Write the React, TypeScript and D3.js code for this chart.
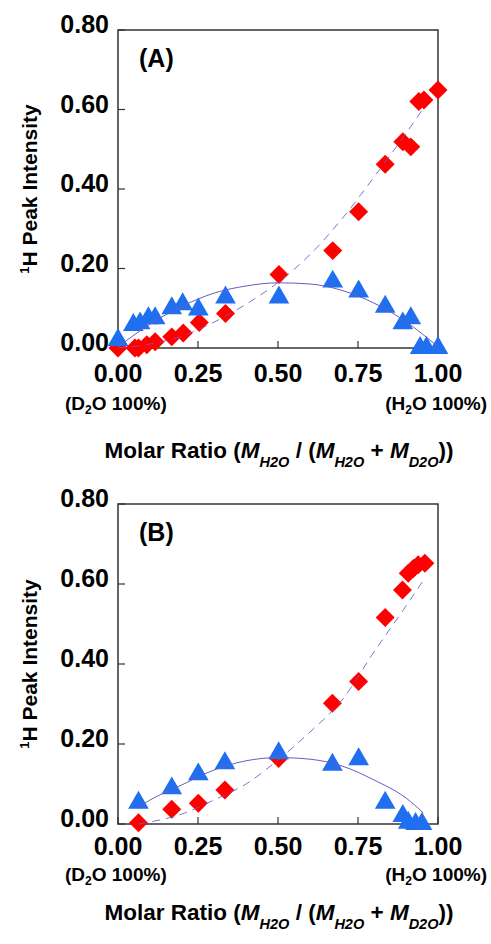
import { useEffect, useRef } from 'react'
import * as d3 from 'd3'

const CHART = { width: 491, height: 944, left: 118, right: 438 }
const FONT = '"Liberation Sans", Arial, sans-serif'
const RED = '#ff0000'
const BLUE = '#1f6ff0'
const CURVE = '#6a5cc4'

const xTicks = [0, 0.25, 0.5, 0.75, 1]
const yTicks = [0, 0.2, 0.4, 0.6, 0.8]

// panel (A)
const aRedX = [0.0, 0.053, 0.064, 0.09, 0.116, 0.168, 0.204, 0.254, 0.336, 0.503, 0.671, 0.752, 0.835, 0.89, 0.915, 0.94, 0.956, 1.0]
const aRedY = [0.0, 0.0, 0.0, 0.008, 0.016, 0.028, 0.038, 0.064, 0.087, 0.185, 0.245, 0.343, 0.462, 0.519, 0.506, 0.62, 0.624, 0.649]
const aBlueX = [0.0, 0.048, 0.069, 0.095, 0.116, 0.168, 0.202, 0.251, 0.336, 0.503, 0.671, 0.752, 0.835, 0.89, 0.915, 0.944, 0.964, 1.0]
const aBlueY = [0.02, 0.058, 0.062, 0.075, 0.075, 0.1, 0.11, 0.097, 0.127, 0.127, 0.167, 0.142, 0.104, 0.062, 0.075, 0.0, 0.0, 0.0]
const aSolidX = [0, 0.1, 0.2, 0.3, 0.4, 0.5, 0.6, 0.7, 0.8, 0.9, 1.0]
const aSolidY = [0.003, 0.06, 0.105, 0.138, 0.156, 0.164, 0.161, 0.145, 0.113, 0.066, 0.003]
const aDashX = [0, 0.1, 0.2, 0.3, 0.4, 0.5, 0.6, 0.7, 0.8, 0.9, 0.96]
const aDashY = [0, 0.01, 0.03, 0.065, 0.11, 0.165, 0.235, 0.325, 0.43, 0.54, 0.61]

// panel (B)
const bRedX = [0.064, 0.168, 0.251, 0.334, 0.502, 0.67, 0.752, 0.835, 0.889, 0.907, 0.923, 0.938, 0.959]
const bRedY = [0.003, 0.037, 0.052, 0.085, 0.164, 0.302, 0.356, 0.516, 0.585, 0.627, 0.639, 0.648, 0.652]
const bBlueX = [0.064, 0.168, 0.251, 0.334, 0.502, 0.67, 0.752, 0.835, 0.89, 0.907, 0.93, 0.95]
const bBlueY = [0.053, 0.089, 0.124, 0.152, 0.177, 0.148, 0.162, 0.053, 0.02, 0.003, 0.0, 0.0]
const bSolidX = [0.064, 0.1, 0.2, 0.3, 0.4, 0.5, 0.6, 0.7, 0.8, 0.9, 0.954]
const bSolidY = [0.043, 0.06, 0.098, 0.135, 0.158, 0.166, 0.162, 0.145, 0.11, 0.065, 0.028]
const bDashX = [0.064, 0.1, 0.2, 0.3, 0.4, 0.5, 0.6, 0.7, 0.8, 0.9, 0.955]
const bDashY = [0.0, 0.005, 0.025, 0.06, 0.1, 0.16, 0.23, 0.31, 0.43, 0.545, 0.61]

const panels = [
    { label: '(A)', top: 30, bottom: 348, tickDy: 34, noteDy: 62, titleDy: 110,
      red: [aRedX, aRedY], blue: [aBlueX, aBlueY], solid: [aSolidX, aSolidY], dash: [aDashX, aDashY] },
    { label: '(B)', top: 504, bottom: 824, tickDy: 31, noteDy: 57, titleDy: 96,
      red: [bRedX, bRedY], blue: [bBlueX, bBlueY], solid: [bSolidX, bSolidY], dash: [bDashX, bDashY] },
]

export default function App(){
    const svgRef = useRef<SVGSVGElement|null>(null)

    useEffect(()=>{
        const svg = d3.select(svgRef.current)
        svg.selectAll('*').remove()
        panels.forEach(p => drawPanel(svg, p))
    },[])

    function drawPanel(svg:any, p:any){
        const x = d3.scaleLinear().domain([0, 1]).range([CHART.left, CHART.right])
        const y = d3.scaleLinear().domain([0, 0.8]).range([p.bottom, p.top])
        const g = svg.append('g').attr('font-family', FONT).attr('font-weight', 'bold')

        // frame
        g.append('rect')
            .attr('x', x(0)).attr('y', y(0.8))
            .attr('width', x(1) - x(0)).attr('height', y(0) - y(0.8))
            .attr('fill', 'none').attr('stroke', '#333').attr('stroke-width', 1.5)

        // inward ticks
        g.selectAll('.xt').data(xTicks).enter().append('line')
            .attr('x1', (d:any) => x(d)).attr('x2', (d:any) => x(d))
            .attr('y1', y(0)).attr('y2', y(0) - 7)
            .attr('stroke', '#333').attr('stroke-width', 1.2)
        g.selectAll('.yt').data(yTicks).enter().append('line')
            .attr('x1', x(0)).attr('x2', x(0) + 7)
            .attr('y1', (d:any) => y(d)).attr('y2', (d:any) => y(d))
            .attr('stroke', '#333').attr('stroke-width', 1.2)

        const fmt = d3.format('.2f')
        g.selectAll('.xl').data(xTicks).enter().append('text')
            .attr('x', (d:any) => x(d)).attr('y', y(0) + p.tickDy)
            .attr('text-anchor', 'middle').attr('font-size', 25)
            .text((d:any) => fmt(d))
        g.selectAll('.yl').data(yTicks).enter().append('text')
            .attr('x', x(0) - 9).attr('y', (d:any) => y(d) + 3)
            .attr('text-anchor', 'end').attr('font-size', 25)
            .text((d:any) => fmt(d))

        // panel letter
        g.append('text').attr('x', x(0) + 21).attr('y', y(0.8) + 37)
            .attr('font-size', 25).text(p.label)

        // y title
        const yt = g.append('text')
            .attr('transform', `translate(37,${(y(0) + y(0.8)) / 2}) rotate(-90)`)
            .attr('text-anchor', 'middle').attr('font-size', 21)
        yt.append('tspan').attr('font-size', 13).attr('dy', -8).text('1')
        yt.append('tspan').attr('dy', 8).text('H Peak Intensity')

        // end notes
        const n1 = g.append('text').attr('x', 65).attr('y', y(0) + p.noteDy).attr('font-size', 19)
        n1.append('tspan').text('(D')
        n1.append('tspan').attr('font-size', 12).attr('dy', 4).text('2')
        n1.append('tspan').attr('dy', -4).text('O 100%)')
        const n2 = g.append('text').attr('x', 487).attr('y', y(0) + p.noteDy)
            .attr('text-anchor', 'end').attr('font-size', 19)
        n2.append('tspan').text('(H')
        n2.append('tspan').attr('font-size', 12).attr('dy', 4).text('2')
        n2.append('tspan').attr('dy', -4).text('O 100%)')

        // x title
        const t = g.append('text').attr('x', 279).attr('y', y(0) + p.titleDy)
            .attr('text-anchor', 'middle').attr('font-size', 22.5)
        const part = (txt:string, italic:boolean, sub:boolean) => {
            const s = t.append('tspan').text(txt)
            if(italic) s.attr('font-style', 'italic')
            if(sub) s.attr('font-size', 14.5).attr('dy', 9)
            return s
        }
        part('Molar Ratio (', false, false)
        part('M', true, false)
        part('H2O', true, true)
        part(' / (', false, false).attr('dy', -9)
        part('M', true, false)
        part('H2O', true, true)
        part(' + ', false, false).attr('dy', -9)
        part('M', true, false)
        part('D2O', true, true)
        part('))', false, false).attr('dy', -9)

        // markers
        const red = d3.zip(p.red[0], p.red[1])
        const blue = d3.zip(p.blue[0], p.blue[1])
        const sq = d3.symbol().type(d3.symbolSquare).size(180)
        const tri = d3.symbol().type(d3.symbolTriangle).size(185)
        g.selectAll('.dia').data(red).enter().append('path')
            .attr('d', sq)
            .attr('transform', (d:any) => `translate(${x(d[0])},${y(d[1])}) rotate(45)`)
            .attr('fill', RED)
        g.selectAll('.tri').data(blue).enter().append('path')
            .attr('d', tri)
            .attr('transform', (d:any) => `translate(${x(d[0])},${y(d[1])})`)
            .attr('fill', BLUE)

        // fitted curves
        const line = d3.line<any>().x(d => x(d[0])).y(d => y(d[1])).curve(d3.curveMonotoneX)
        g.append('path').attr('d', line(d3.zip(p.solid[0], p.solid[1])))
            .attr('fill', 'none').attr('stroke', CURVE).attr('stroke-width', 1)
        g.append('path').attr('d', line(d3.zip(p.dash[0], p.dash[1])))
            .attr('fill', 'none').attr('stroke', CURVE).attr('stroke-width', 1)
            .attr('stroke-dasharray', '8,6').attr('opacity', 0.85)
    }

    return (
        <svg ref={svgRef} width={CHART.width} height={CHART.height}
            style={{ position: 'absolute', left: 0, top: 0, background: '#fff' }} />
    )
}
